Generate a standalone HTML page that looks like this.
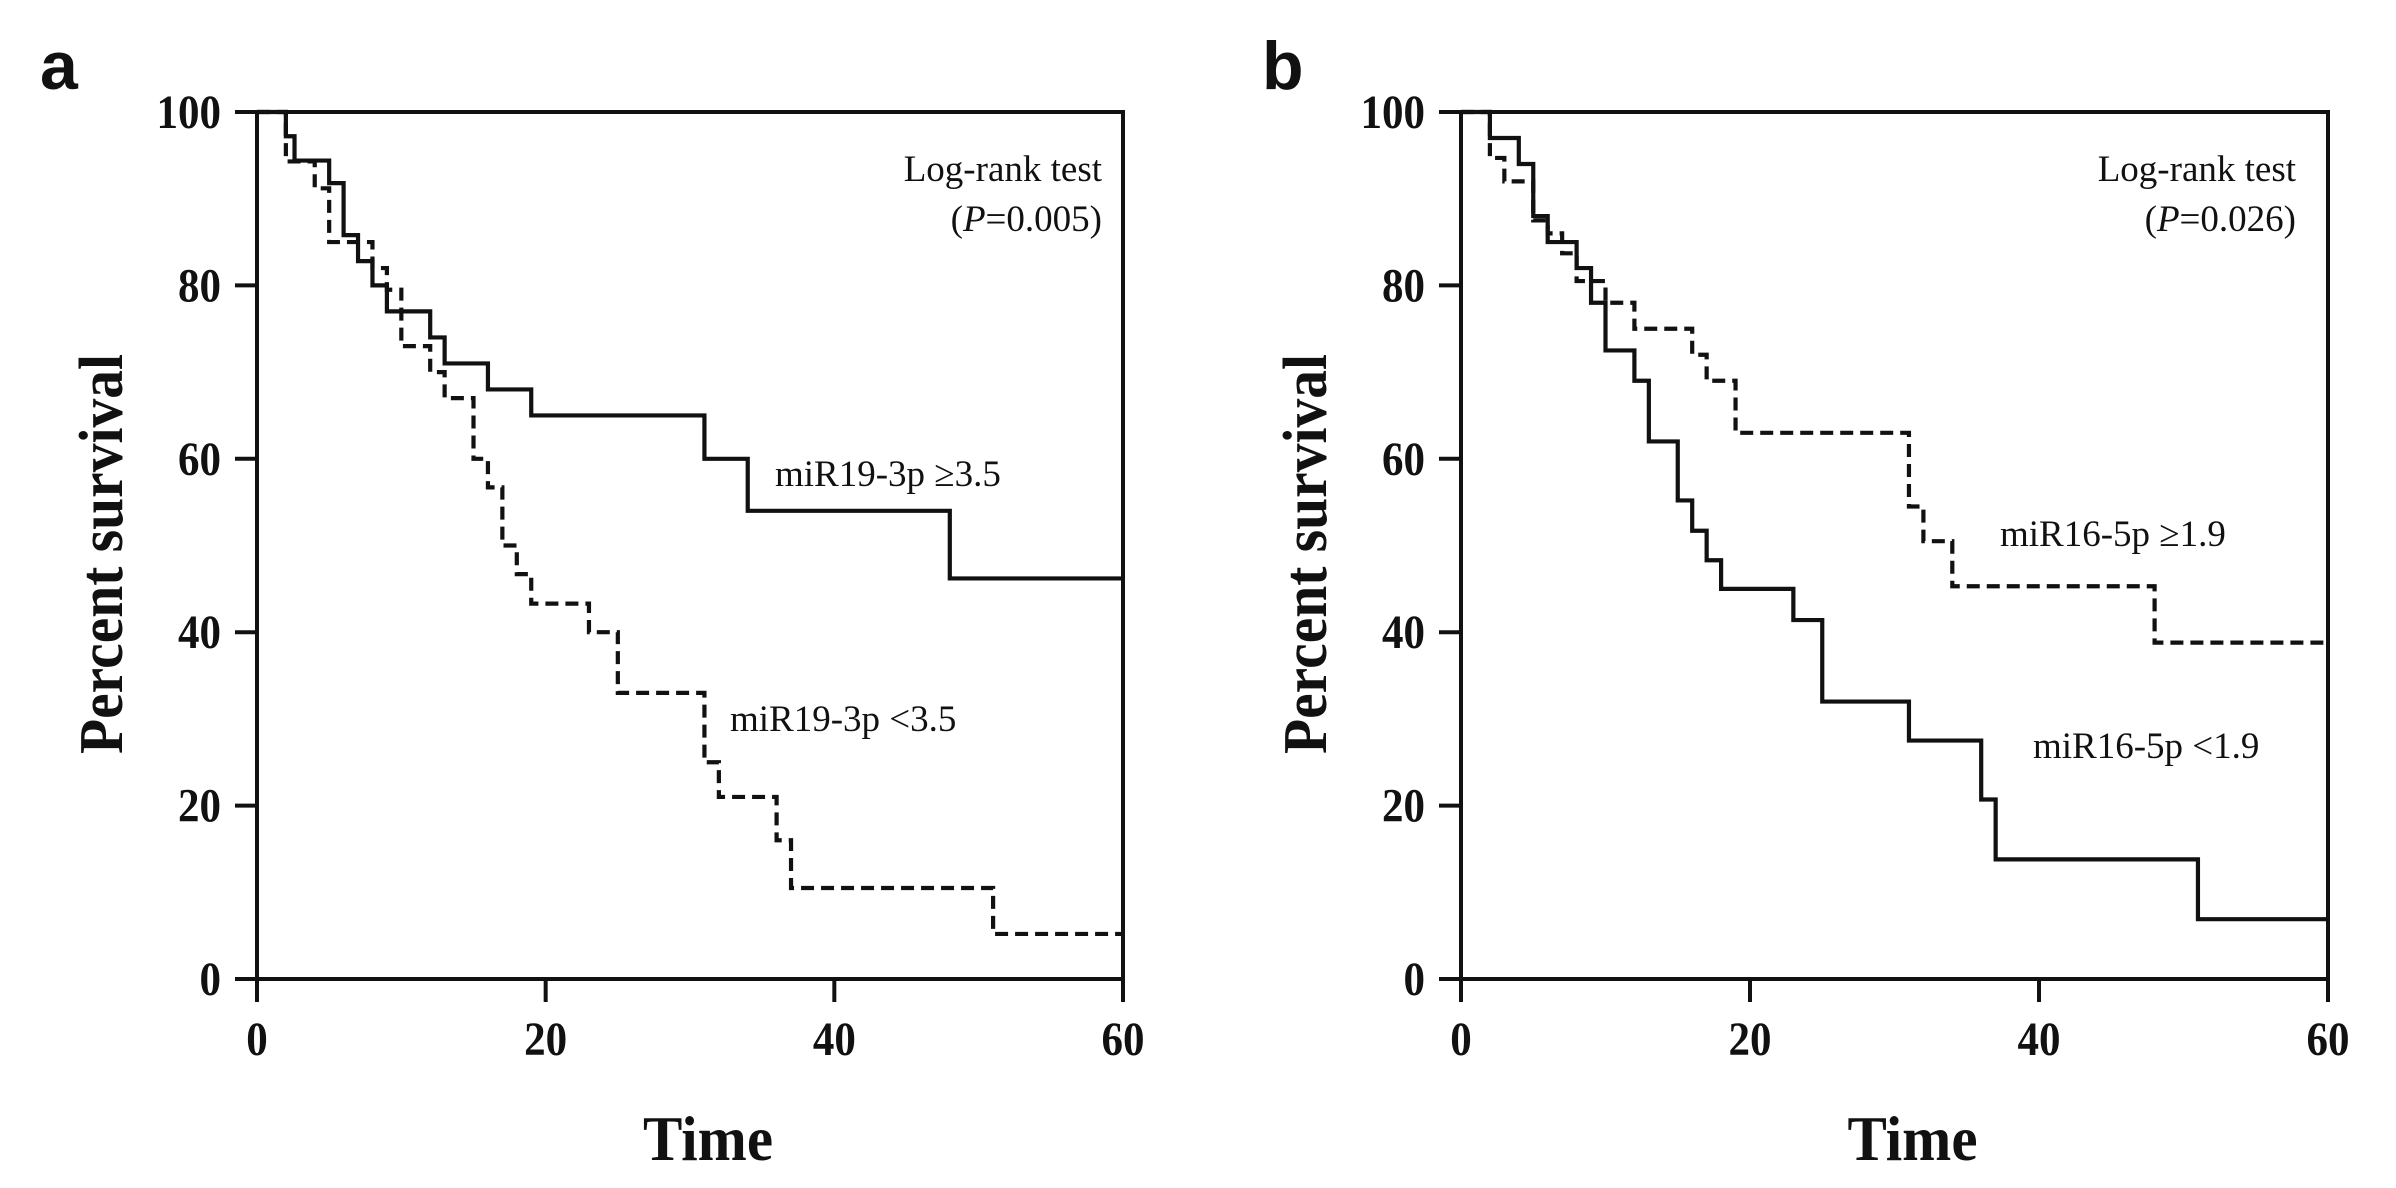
<!DOCTYPE html>
<html><head><meta charset="utf-8">
<style>
html,body{margin:0;padding:0;background:#fff;}
svg{display:block;}
.tick{font-family:"Liberation Serif",serif;font-weight:bold;font-size:48px;fill:#111;}
.title{font-family:"Liberation Serif",serif;font-weight:bold;fill:#111;}
.ann{font-family:"Liberation Serif",serif;font-size:37px;fill:#111;}
.panel{font-family:"Liberation Sans",sans-serif;font-weight:bold;font-size:68px;fill:#111;}
</style></head>
<body>
<svg id="chart" width="2396" height="1188" viewBox="0 0 2396 1188" xmlns="http://www.w3.org/2000/svg"></svg>
<script>
const xTicks = [0, 20, 40, 60];
const yTicks = [0, 20, 40, 60, 80, 100];
// Panel a
const aHighTimes = [0, 2, 2.6, 5, 6, 7, 8, 9, 12, 13, 16, 19, 31, 34, 48, 60];
const aHighSurv  = [100, 97.2, 94.4, 91.8, 85.8, 82.8, 80, 77, 74, 71, 68, 65, 60, 54, 46.2, 46.2];
const aLowTimes  = [0, 2, 4, 5, 8, 9, 10, 12, 13, 15, 16, 17, 18, 19, 23, 25, 31, 32, 36, 37, 51, 60];
const aLowSurv   = [100, 94.3, 91.2, 85, 82, 79.5, 73, 70, 67, 60, 56.7, 50, 46.7, 43.3, 40, 33, 25, 21, 16, 10.5, 5.2, 5.2];
// Panel b
const bLowTimes  = [0, 2, 4, 5, 6, 8, 9, 10, 12, 13, 15, 16, 17, 18, 23, 25, 31, 36, 37, 51, 60];
const bLowSurv   = [100, 97, 94, 88, 85, 82, 78, 72.5, 69, 62, 55.2, 51.7, 48.3, 45, 41.4, 32, 27.5, 20.7, 13.8, 6.9, 6.9];
const bHighTimes = [0, 2, 3, 5, 6, 7, 8, 10, 12, 16, 17, 19, 31, 32, 34, 48, 60];
const bHighSurv  = [100, 94.7, 92, 87.5, 86, 83.7, 80.5, 78, 75, 72, 69, 63, 54.5, 50.5, 45.3, 38.8, 38.8];

const NS = "http://www.w3.org/2000/svg";
const svg = document.getElementById('chart');
function el(tag, attrs, parent, text){
  const e = document.createElementNS(NS, tag);
  for (const k in attrs) e.setAttribute(k, attrs[k]);
  if (text !== undefined) e.textContent = text;
  (parent||svg).appendChild(e);
  return e;
}
function panel(cfg){
  const g = el('g', {});
  
  
  const X = t => cfg.x0 + (cfg.x1 - cfg.x0) * t / 60;
  const Y = v => cfg.y0 + (cfg.y1 - cfg.y0) * v / 100;
  const frame = el('path', {d:`M${cfg.x0-22},${Y(100)} H${X(60)} V${Y(0)+23} M${X(0)},${Y(100)} V${Y(0)+23} M${cfg.x0-22},${Y(0)} H${X(60)}`, stroke:'#111','stroke-width':4,fill:'none'}, g);
  
  
  yTicks.forEach(v=>{
    const t = el('line',{x1:cfg.x0-22,x2:cfg.x0,y1:Y(v),y2:Y(v),stroke:'#111','stroke-width':4},g);
    
    
    const s = String(v);
    const l = el('text',{x:cfg.x0-36,y:Y(v)+16,'text-anchor':'end',class:'tick',textLength:s.length*21.5,lengthAdjust:'spacingAndGlyphs'},g,s);
    
    
  });
  xTicks.forEach(v=>{
    const t = el('line',{x1:X(v),x2:X(v),y1:Y(0),y2:Y(0)+23,stroke:'#111','stroke-width':4},g);
    
    
    const s = String(v);
    const l = el('text',{x:X(v),y:1055,'text-anchor':'middle',class:'tick',textLength:s.length*21.5,lengthAdjust:'spacingAndGlyphs'},g,s);
    
    
  });
  function step(ts, vs, dashed, name){
    let d = `M${X(ts[0])},${Y(vs[0])}`;
    for (let i=1;i<ts.length;i++){ d += ` H${X(ts[i])} V${Y(vs[i])}`; }
    const p = el('path',{d,stroke:'#111','stroke-width':4.2,fill:'none','stroke-dasharray':dashed?'13 7':'none'},g);
    
    
  }
  step(cfg.solidT, cfg.solidV, false, cfg.solidName);
  step(cfg.dashT, cfg.dashV, true, cfg.dashName);
  const xt = el('text',{x:(cfg.x0+cfg.x1)/2+18,y:1160,'text-anchor':'middle',class:'title','font-size':'64px',textLength:130,lengthAdjust:'spacingAndGlyphs'},g,'Time');
  
  
  const yt = el('text',{x:0,y:0,'text-anchor':'middle',class:'title','font-size':'62px',textLength:400,lengthAdjust:'spacingAndGlyphs',transform:`translate(${cfg.yTitleX},554) rotate(-90)`},g,'Percent survival');
  
  
  const pl = el('text',{x:cfg.labelX,y:89,class:'panel'},g,cfg.label);
  
  
  const lr = el('text',{x:cfg.lrX,y:181,'text-anchor':'end',class:'ann'},g,'Log-rank test');
  
  
  const pv = el('text',{x:cfg.lrX,y:231,'text-anchor':'end',class:'ann'},g);
  
  
  pv.appendChild(document.createTextNode('('));
  el('tspan',{'font-style':'italic'},pv,'P');
  pv.appendChild(document.createTextNode('='+cfg.p+')'));
  cfg.anns.forEach(a=>{
    const t = el('text',{x:a[0],y:a[1],class:'ann'},g,a[2]);
    
    
  });
}
panel({name:'panel-a',x0:257,x1:1123,y0:979,y1:112,label:'a',labelX:40,yTitleX:122,lrX:1102,p:'0.005',
  solidT:aHighTimes,solidV:aHighSurv,dashT:aLowTimes,dashV:aLowSurv,solidName:'line-mir19-high',dashName:'line-mir19-low',
  anns:[[775,486,'miR19-3p ≥3.5'],[730,731,'miR19-3p <3.5']]});
panel({name:'panel-b',x0:1461,x1:2328,y0:979,y1:112,label:'b',labelX:1262,yTitleX:1326,lrX:2296,p:'0.026',
  solidT:bLowTimes,solidV:bLowSurv,dashT:bHighTimes,dashV:bHighSurv,solidName:'line-mir16-low',dashName:'line-mir16-high',
  anns:[[2000,546,'miR16-5p ≥1.9'],[2033,758,'miR16-5p <1.9']]});
</script>
</body></html>
